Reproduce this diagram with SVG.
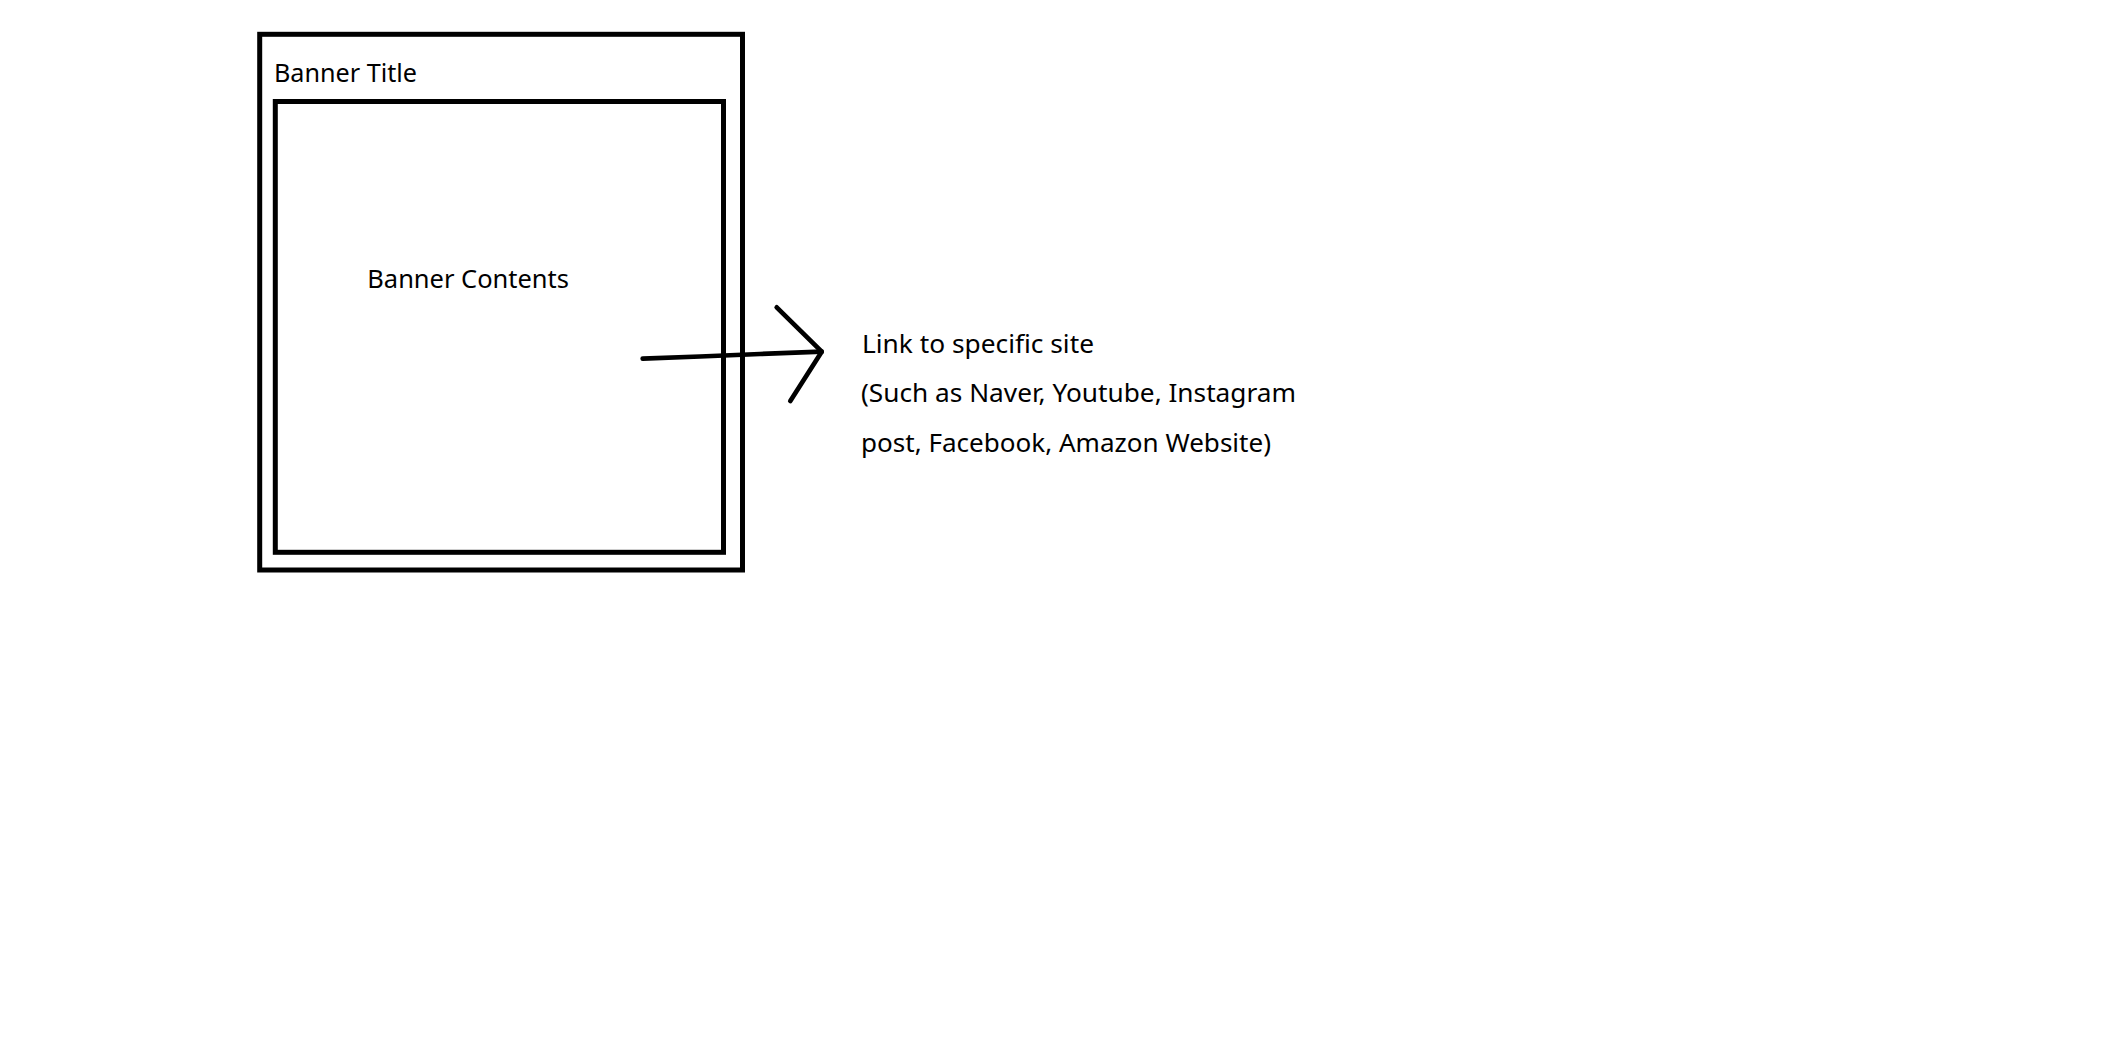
<svg xmlns="http://www.w3.org/2000/svg" width="2104" height="1060" viewBox="0 0 2104 1060">
<style>
.box{fill:none;stroke:#000;stroke-width:5}
.lbl{font-family:"Noto Sans","Open Sans",sans-serif;font-size:25px;fill:#000}
.pen{fill:none;stroke:#000;stroke-width:4.7;stroke-linecap:round;stroke-linejoin:round}
</style>
<rect width="2104" height="1060" fill="#fff"/>
<g id="banner">
<rect class="box" x="259.7" y="34.3" width="482.8" height="535.7"/>
<text class="lbl" x="274" y="82.3" textLength="143" lengthAdjust="spacingAndGlyphs">Banner Title</text>
</g>
<g id="banner-contents">
<rect class="box" x="275.3" y="101.5" width="448.2" height="450.8"/>
<text class="lbl" x="367.3" y="288.3" textLength="201.7" lengthAdjust="spacingAndGlyphs">Banner Contents</text>
</g>
<g id="connectors">
<polyline class="pen" points="642.7,358.7 700,356.5 760,354 821.7,351.7"/>
<polyline class="pen" points="776.7,307.3 821.7,351.7 790.3,401"/>
</g>
<g id="link-note">
<text class="lbl" x="862" y="352.7" textLength="232" lengthAdjust="spacingAndGlyphs">Link to specific site</text>
<text class="lbl" x="861" y="402.3" textLength="435" lengthAdjust="spacingAndGlyphs">(Such as Naver, Youtube, Instagram</text>
<text class="lbl" x="861" y="451.8" textLength="410" lengthAdjust="spacingAndGlyphs">post, Facebook, Amazon Website)</text>
</g>
</svg>
